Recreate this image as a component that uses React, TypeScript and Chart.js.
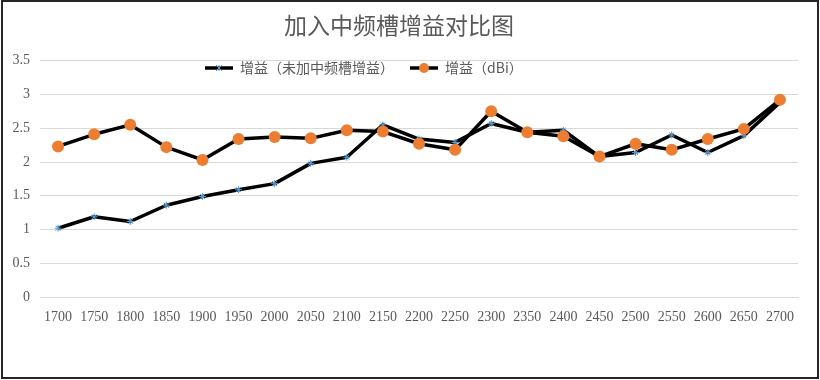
import React, { useEffect, useRef } from "react";
import { Chart, registerables } from "chart.js";

Chart.register(...registerables);

// ---- data ----
const categories = [
  "1700", "1750", "1800", "1850", "1900", "1950", "2000", "2050", "2100", "2150", "2200",
  "2250", "2300", "2350", "2400", "2450", "2500", "2550", "2600", "2650", "2700",
];
const gainNoSlot = [
  1.02, 1.19, 1.12, 1.36, 1.49, 1.59, 1.68, 1.98, 2.07, 2.55, 2.34,
  2.29, 2.57, 2.44, 2.47, 2.08, 2.14, 2.40, 2.14, 2.39, 2.88,
];
const gainDbi = [
  2.23, 2.41, 2.55, 2.22, 2.03, 2.34, 2.37, 2.35, 2.47, 2.45, 2.27,
  2.18, 2.75, 2.44, 2.38, 2.08, 2.27, 2.18, 2.34, 2.49, 2.92,
];
const seriesNames = ["增益（未加中频槽增益）", "增益（dBi）"];
const titleText = "加入中频槽增益对比图";
const yMin = 0;
const yMax = 3.5;
const yStep = 0.5;

const TEXT = "#595959";
const GRID = "#d9d9d9";
const ORANGE = "#ed7d31";
const BLUE = "#5b9bd5";
const CJK = '"Noto Sans CJK SC", "Noto Sans", sans-serif';
const SERIF = '"Liberation Serif", "DejaVu Serif", serif';

// legend drawn inside the plot area (like the Excel original)
const insideLegend = {
  id: "insideLegend",
  afterDraw(chart: any) {
    const ctx = chart.ctx as CanvasRenderingContext2D;
    const y = 68;
    const starts = [205, 410];
    ctx.save();
    ctx.font = `14px ${CJK}`;
    ctx.textBaseline = "middle";
    ctx.textAlign = "left";
    seriesNames.forEach((name, i) => {
      const x = starts[i];
      ctx.strokeStyle = "#000";
      ctx.lineWidth = 3.5;
      ctx.lineCap = "butt";
      ctx.beginPath();
      ctx.moveTo(x, y);
      ctx.lineTo(x + 28, y);
      ctx.stroke();
      const cx = x + 14;
      if (i === 0) {
        ctx.strokeStyle = BLUE;
        ctx.lineWidth = 1;
        const r = 3;
        ctx.beginPath();
        ctx.moveTo(cx - r, y - r);
        ctx.lineTo(cx + r, y + r);
        ctx.moveTo(cx - r, y + r);
        ctx.lineTo(cx + r, y - r);
        ctx.moveTo(cx, y - r);
        ctx.lineTo(cx, y + r);
        ctx.stroke();
      } else {
        ctx.fillStyle = ORANGE;
        ctx.beginPath();
        ctx.arc(cx, y, 5, 0, Math.PI * 2);
        ctx.fill();
      }
      ctx.fillStyle = TEXT;
      ctx.fillText(name, x + 35, y);
    });
    ctx.restore();
  },
};

function ChartView() {
  const ref = useRef<HTMLCanvasElement | null>(null);
  useEffect(() => {
    if (!ref.current) return;
    const chart = new Chart(ref.current, {
      type: "line",
      data: {
        labels: categories,
        datasets: [
          {
            label: seriesNames[0],
            data: gainNoSlot,
            borderColor: "#000",
            borderWidth: 3.5,
            borderJoinStyle: "round",
            pointStyle: "star",
            pointRadius: 3.5,
            pointBorderColor: BLUE,
            pointBackgroundColor: BLUE,
            pointBorderWidth: 1,
            tension: 0,
            order: 1,
          },
          {
            label: seriesNames[1],
            data: gainDbi,
            borderColor: "#000",
            borderWidth: 3.5,
            borderJoinStyle: "round",
            pointStyle: "circle",
            pointRadius: 6,
            pointBorderWidth: 0,
            pointBackgroundColor: ORANGE,
            pointBorderColor: ORANGE,
            tension: 0,
            order: 0,
          },
        ],
      },
      options: {
        animation: false,
        responsive: false,
        maintainAspectRatio: false,
        layout: { padding: { left: 0, right: 22, top: 0, bottom: 42 } },
        plugins: {
          legend: { display: false },
          tooltip: { enabled: false },
          title: {
            display: true,
            text: titleText,
            color: TEXT,
            font: { family: CJK, size: 23, weight: "normal" },
            padding: { top: 11, bottom: 22 },
          },
        },
        scales: {
          x: {
            offset: true,
            grid: { display: false, drawTicks: false },
            border: { display: true, color: GRID, width: 1 },
            ticks: {
              color: TEXT,
              font: { family: SERIF, size: 14 },
              padding: 12,
              maxRotation: 0,
              autoSkip: false,
            },
          },
          y: {
            min: yMin,
            max: yMax,
            grid: { color: GRID, drawTicks: false },
            border: { display: false },
            ticks: {
              stepSize: yStep,
              color: TEXT,
              font: { family: SERIF, size: 14 },
              padding: 10,
              callback: (v: any) => `${Number(v)}`,
            },
            afterFit(scale: any) {
              scale.width = 40;
            },
          },
        },
      },
      plugins: [insideLegend],
    });
    return () => chart.destroy();
  }, []);
  return <canvas ref={ref} width={820} height={380} style={{ display: "block" }} />;
}

export default function App() {
  return (
    <div style={{ position: "fixed", left: 0, top: 0, width: 820, height: 380, background: "#fff" }}>
      <ChartView />
      <div
        style={{
          position: "absolute",
          left: 1,
          top: 0,
          width: 818,
          height: 379,
          boxSizing: "border-box",
          border: "2px solid #262626",
          pointerEvents: "none",
        }}
      />
    </div>
  );
}
